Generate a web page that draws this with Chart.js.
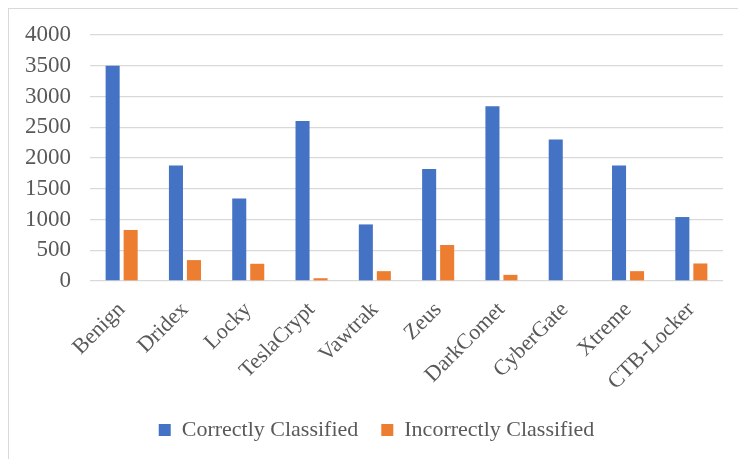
<!DOCTYPE html>
<html>
<head>
<meta charset="utf-8">
<script src="https://cdn.jsdelivr.net/npm/chart.js@4/dist/chart.umd.min.js"></script>
<style>
  html, body { margin: 0; padding: 0; background: #ffffff; }
  #wrap { position: relative; width: 738px; height: 459px; }
</style>
</head>
<body>
<div id="wrap"><canvas id="c" width="738" height="459"></canvas></div>
<script>
// Classification results per malware family
const families = ['Benign', 'Dridex', 'Locky', 'TeslaCrypt', 'Vawtrak', 'Zeus', 'DarkComet', 'CyberGate', 'Xtreme', 'CTB-Locker'];
const correctlyClassified = [3500, 1880, 1340, 2600, 920, 1820, 2840, 2300, 1880, 1040];
const incorrectlyClassified = [830, 340, 280, 45, 160, 585, 100, 0, 160, 285];
const yTicks = [0, 500, 1000, 1500, 2000, 2500, 3000, 3500, 4000];

const FONT = "'Liberation Serif', 'Times New Roman', serif";
const TEXT = '#595959';
const GRID = '#d9d9d9';

Chart.defaults.font.family = FONT;
Chart.defaults.color = TEXT;

// Thin frame around the chart
const framePlugin = {
  id: 'frame',
  beforeDraw(chart) {
    const ctx = chart.ctx;
    ctx.save();
    ctx.fillStyle = '#ffffff';
    ctx.fillRect(0, 0, chart.width, chart.height);
    ctx.strokeStyle = GRID;
    ctx.lineWidth = 1;
    ctx.strokeRect(8.5, 8.5, chart.width + 20, chart.height + 20);
    ctx.restore();
  }
};

new Chart(document.getElementById('c'), {
  type: 'bar',
  data: {
    labels: families,
    datasets: [
      { label: 'Correctly Classified', data: correctlyClassified, backgroundColor: '#4472C4',
        categoryPercentage: 0.569, barPercentage: 0.78 },
      { label: 'Incorrectly Classified', data: incorrectlyClassified, backgroundColor: '#ED7D31',
        categoryPercentage: 0.569, barPercentage: 0.78 }
    ]
  },
  options: {
    responsive: false,
    animation: false,
    layout: { padding: { left: 30, right: 15, top: 35, bottom: 8 } },
    plugins: {
      tooltip: { enabled: false },
      legend: {
        position: 'bottom',
        labels: {
          boxWidth: 12, boxHeight: 12, padding: 23,
          color: TEXT,
          font: { family: FONT, size: 22 }
        }
      }
    },
    scales: {
      x: {
        grid: { display: false },
        border: { display: false },
        ticks: {
          color: TEXT,
          font: { family: FONT, size: 22 },
          minRotation: 45, maxRotation: 45,
          padding: 8
        },
        afterFit(scale) { scale.height = 115; }
      },
      y: {
        min: 0, max: 4000,
        afterBuildTicks(scale) { scale.ticks = yTicks.map(v => ({ value: v })); },
        grid: { color: GRID, lineWidth: 1.3, drawTicks: false },
        border: { display: false },
        ticks: {
          color: TEXT,
          font: { family: FONT, size: 23 },
          padding: 19,
          callback: (v) => String(v)
        },
        afterFit(scale) {
          scale.width = 60;
          // let the tick labels run past the narrow axis box
          scale._computeLabelArea = () => undefined;
        }
      }
    }
  },
  plugins: [framePlugin]
});
</script>
</body>
</html>
